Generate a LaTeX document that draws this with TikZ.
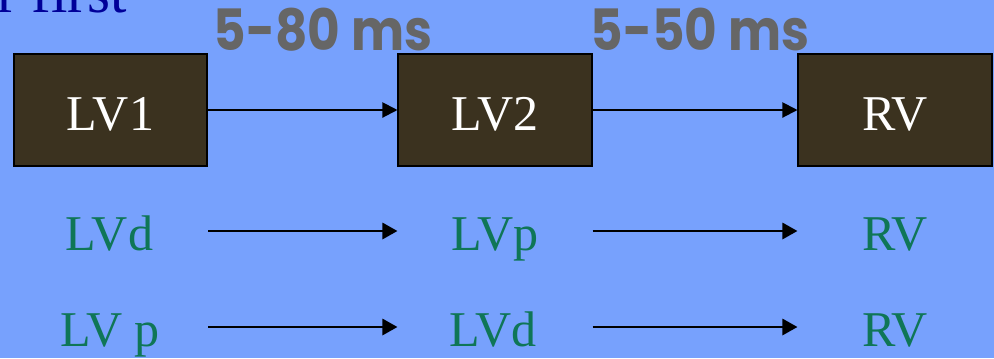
\documentclass[tikz,border=0pt]{standalone}
\usepackage{fontspec}
\setmainfont{Liberation Serif}
\newfontfamily\delayfont{Poppins}
\usetikzlibrary{arrows.meta, positioning}
\definecolor{slideBlue}{HTML}{77A1FD}
\definecolor{boxBrown}{HTML}{3B321F}
\definecolor{leadGreen}{HTML}{0F7657}
\definecolor{delayGray}{HTML}{666666}
\definecolor{titleBlue}{HTML}{000099}
\tikzset{
  arrowK/.style={-{Triangle[length=0.375cm, width=0.375cm]}, black, line width=1.4pt},
  arrowB/.style={-{Triangle[length=0.375cm, width=0.4cm]}, black, line width=2pt},
  boxV/.style={rectangle, draw=black, line width=1.4pt, fill=boxBrown, text=white,
               minimum width=4.825cm, minimum height=2.8cm, inner sep=0pt,
               text height=1cm, text depth=0pt,
               font=\fontsize{35.6}{40}\selectfont},
  leadT/.style={text=leadGreen, anchor=base, inner sep=0pt,
                font=\fontsize{35.6}{40}\selectfont},
  delayT/.style={text=delayGray, anchor=base, inner sep=0pt, xscale=0.88,
                 font=\delayfont\bfseries\fontsize{40.5}{44}\selectfont},
}

\begin{document}
\begin{tikzpicture}[x=0.025cm, y=-0.025cm]
    \useasboundingbox (0,0) rectangle (994,358);
    \clip (0,0) rectangle (994,358);
    \fill[slideBlue] (0,0) rectangle (994,358);
    \node[anchor=base west, text=titleBlue, inner sep=0pt,
          font=\fontsize{42}{46}\selectfont] (ttl) at (-3,12) {r first};
    % ventricle boxes
    \node[boxV] (lv1) at (110.5,110) {LV1};
    \node[boxV] (lv2) at (495,110)   {LV2};
    \node[boxV] (rv)  at (895,110)   {RV};
    \draw[arrowK] (lv1) -- (lv2); \draw[arrowK] (lv2) -- (rv);
    \node[delayT] (d1) at (323,50) {5-80 ms};
    \node[delayT] (d2) at (700,50) {5-50 ms};
    % activation order
    \coordinate (r2) at (0,231);
    \coordinate (r3) at (0,327);
    \node[leadT] (a1) at (109.5,250) {LVd};
    \node[leadT] (a2) at (495,250)   {LVp};
    \node[leadT] (a3) at (895,250)   {RV};
    \node[leadT] (b1) at (110,346)   {LV p};
    \node[leadT] (b2) at (493,346)   {LVd};
    \node[leadT] (b3) at (895,346)   {RV};
    \draw[arrowB] (lv1.east |- r2) -- (lv2.west |- r2);
    \draw[arrowB] (lv2.east |- r2) -- (rv.west |- r2);
    \draw[arrowB] (lv1.east |- r3) -- (lv2.west |- r3);
    \draw[arrowB] (lv2.east |- r3) -- (rv.west |- r3);
  \end{tikzpicture}
\end{document}
